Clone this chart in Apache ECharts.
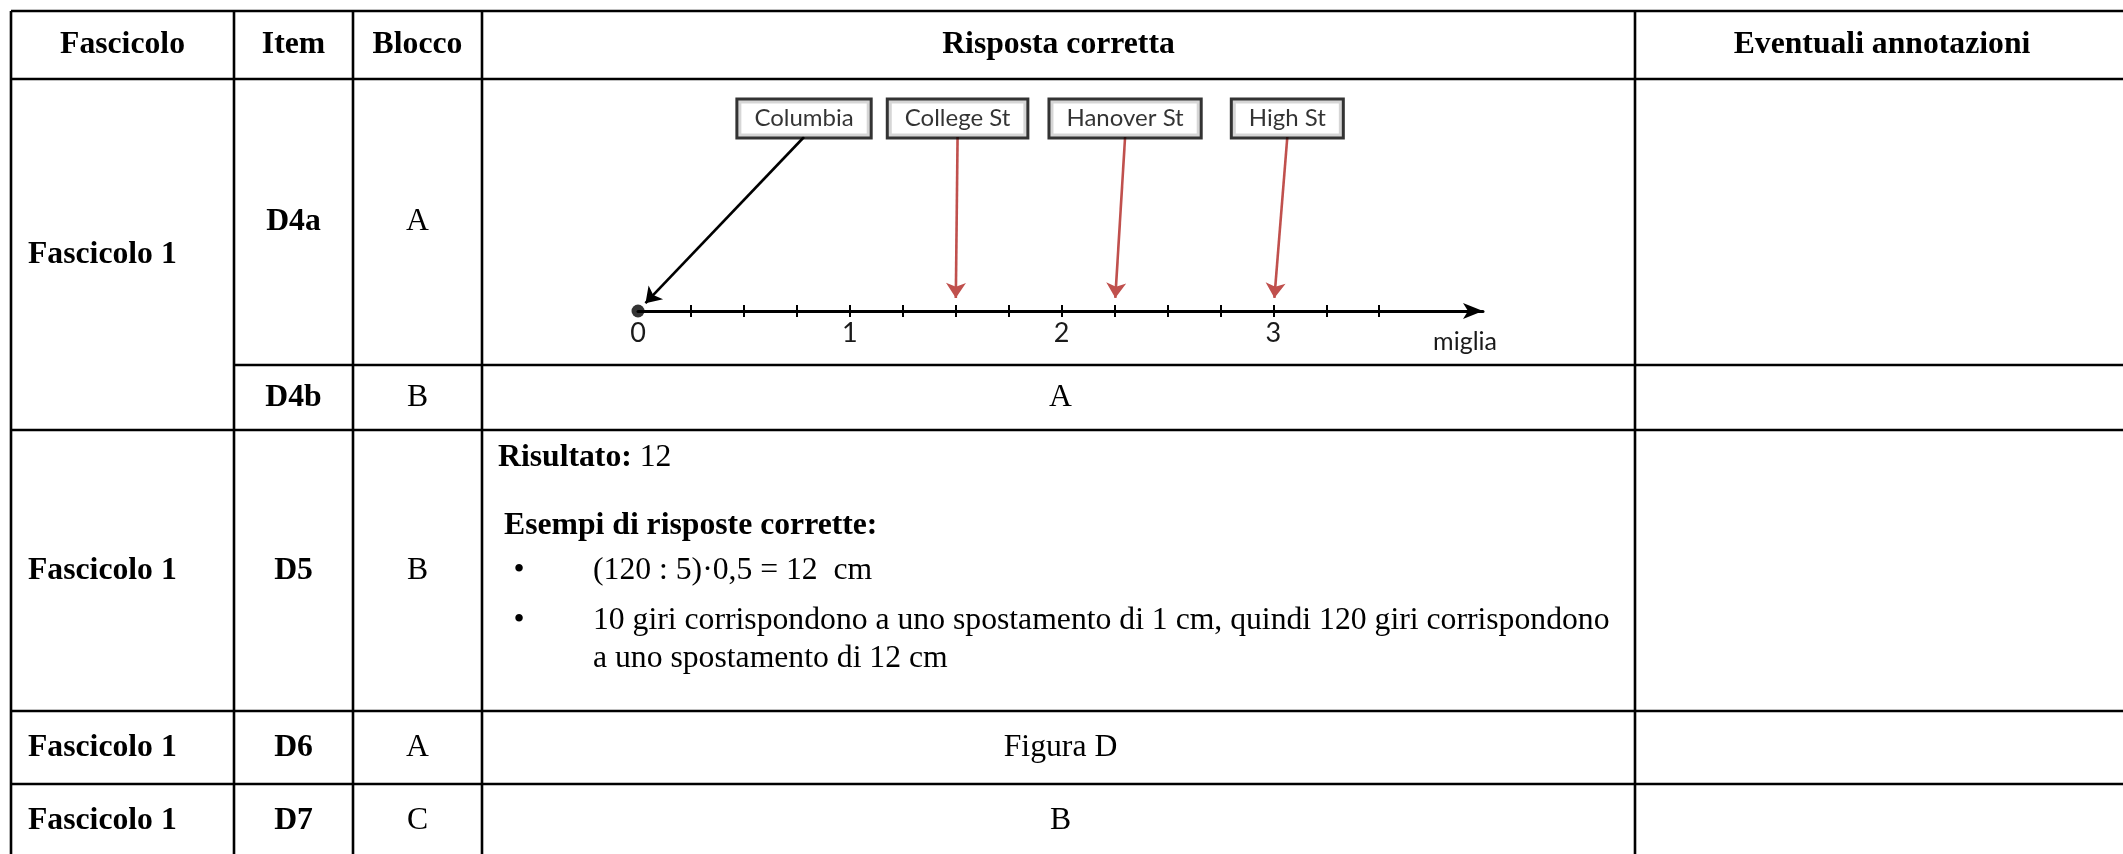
<!DOCTYPE html>
<html>
<head>
<meta charset="utf-8">
<title>Fascicolo 1 - risposte corrette</title>
<script src="https://cdn.jsdelivr.net/npm/echarts@6/dist/echarts.min.js"></script>
<style>
html, body { margin: 0; padding: 0; background: #fff; }
#main { width: 2123px; height: 854px; }
</style>
</head>
<body>
<div id="main"></div>
<script>
// intestazioni e righe della tabella
var intestazioni = ['Fascicolo', 'Item', 'Blocco', 'Risposta corretta', 'Eventuali annotazioni'];
var item = ['D4a', 'D4b', 'D5', 'D6', 'D7'];
var blocco = ['A', 'B', 'B', 'A', 'C'];
var risposta = ['', 'A', '', 'Figura D', 'B'];
var fascicolo = ['Fascicolo 1', 'Fascicolo 1', 'Fascicolo 1', 'Fascicolo 1'];
var righeFascicolo = [[0, 1], [2], [3], [4]];   // D4a e D4b nella stessa cella

// risposta D5
var risultato = '12';
var titoloEsempi = 'Esempi di risposte corrette:';
var esempi = [
    ['(120 : 5)\u00b70,5 = 12  cm'],
    ['10 giri corrispondono a uno spostamento di 1 cm, quindi 120 giri corrispondono',
     'a uno spostamento di 12 cm']
];

// risposta D4a: retta dei numeri
var strade = ['Columbia', 'College St', 'Hanover St', 'High St'];
var miglia = [0, 1.5, 2.25, 3];
var tacche = [0.25, 0.5, 0.75, 1, 1.25, 1.5, 1.75, 2, 2.25, 2.5, 2.75, 3, 3.25, 3.5];
var etichette = [0, 1, 2, 3];

// impaginazione (pixel)
var colX = [11, 234, 353, 482, 1635, 2123];
var rowY = [11, 79, 365, 430, 711, 784, 857];
var boxAt = [0.784, 1.509, 2.30, 3.066];        // centro dei riquadri, in miglia
var colori = ['#000000', '#c0504d', '#c0504d', '#c0504d'];

var SERIF = '"Liberation Serif", "Times New Roman", serif';
var SANS = 'Lato, "Noto Sans", sans-serif';
var FS = 31.7;

var graphic = [];
function linea(x1, y1, x2, y2) {
    graphic.push({
        type: 'line', silent: true,
        shape: { x1: x1, y1: y1, x2: x2, y2: y2 },
        style: { stroke: '#000', lineWidth: 2.6 }
    });
}
function testo(t, x, y, bold, align) {
    graphic.push({
        type: 'text', silent: true, x: x, y: y,
        style: {
            text: t, fill: '#000',
            fontFamily: SERIF, fontSize: FS, fontWeight: bold ? 'bold' : 'normal',
            align: align || 'center', verticalAlign: 'middle'
        }
    });
}
function centroX(c) { return (colX[c] + colX[c + 1]) / 2; }
function centroY(r0, r1) { return (rowY[r0] + rowY[r1]) / 2; }

// griglia della tabella
[0, 1, 3, 4, 5].forEach(function (r) { linea(colX[0], rowY[r], colX[5], rowY[r]); });
linea(colX[1], rowY[2], colX[5], rowY[2]);
for (var c = 0; c < 5; c++) linea(colX[c], rowY[0], colX[c], 854);

// intestazione
intestazioni.forEach(function (t, i) {
    testo(t, i === 4 ? 1882 : centroX(i), centroY(0, 1), true);
});

// righe: item i occupa la fascia i+1 .. i+2
item.forEach(function (t, i) {
    var y = centroY(i + 1, i + 2);
    testo(t, centroX(1), y, true);
    testo(blocco[i], centroX(2), y, false);
    if (risposta[i]) testo(risposta[i], centroX(3) + 2, y, false);
});
fascicolo.forEach(function (t, g) {
    var rr = righeFascicolo[g];
    testo(t, 28, centroY(rr[0] + 1, rr[rr.length - 1] + 2), true, 'left');
});

// contenuto D5
graphic.push({
    type: 'text', silent: true, x: 498, y: 458,
    style: {
        text: '{b|Risultato:}{n| ' + risultato + '}',
        verticalAlign: 'middle', align: 'left',
        rich: {
            b: { fontFamily: SERIF, fontSize: FS, fontWeight: 'bold', fill: '#000' },
            n: { fontFamily: SERIF, fontSize: FS, fill: '#000' }
        }
    }
});
testo(titoloEsempi, 504, 526, true, 'left');
var yRiga = [571, 621];
esempi.forEach(function (righe, k) {
    testo('\u2022', 519, yRiga[k], false);
    righe.forEach(function (r, j) {
        testo(r, 593, yRiga[k] + j * 38, false, 'left');
    });
});

var chart = echarts.init(document.getElementById('main'));

var frecce = strade.map(function (s, i) {
    var x0 = boxAt[i], y0 = 1, x1 = miglia[i], y1 = 0;
    var f = i === 0 ? 0.955 : 0.925;
    return {
        name: s,
        coords: [[x0, y0], [x0 + (x1 - x0) * f, y0 + (y1 - y0) * f]],
        lineStyle: { color: colori[i] }
    };
});

var option = {
    backgroundColor: '#ffffff',
    animation: false,
    graphic: graphic,
    grid: { left: 638, top: 137, width: 845, height: 174 },
    xAxis: [
        {
            type: 'value', min: 0, max: 3.99, position: 'bottom',
            name: 'miglia', nameLocation: 'end', nameGap: 14,
            nameTextStyle: {
                fontFamily: SANS, fontSize: 25, color: '#1a1a1a',
                align: 'right', verticalAlign: 'top', padding: [18, 0, 0, 0]
            },
            axisLine: {
                show: true, symbol: ['none', 'arrow'], symbolSize: [12, 20],
                lineStyle: { color: '#000', width: 3 }
            },
            axisTick: { show: true, customValues: tacche, length: 6, lineStyle: { color: '#000', width: 2 } },
            axisLabel: { customValues: etichette, fontFamily: SANS, fontSize: 27, color: '#1a1a1a', margin: 9 },
            splitLine: { show: false }
        },
        {
            type: 'value', min: 0, max: 3.99, position: 'bottom',
            axisLine: { show: false },
            axisTick: { show: true, inside: true, customValues: tacche, length: 6, lineStyle: { color: '#000', width: 2 } },
            axisLabel: { show: false },
            splitLine: { show: false }
        }
    ],
    yAxis: { type: 'value', min: 0, max: 1, show: false },
    series: [
        {
            type: 'lines', coordinateSystem: 'cartesian2d',
            symbol: ['none', 'arrow'], symbolSize: 15,
            lineStyle: { width: 2.6, opacity: 1 },
            data: frecce, z: 3
        },
        {
            type: 'scatter', clip: false,
            symbolSize: 13, itemStyle: { color: '#000' },
            data: [[miglia[0], 0]], z: 4
        },
        {
            type: 'scatter', clip: false,
            symbolSize: 1, itemStyle: { color: 'rgba(0,0,0,0)' },
            data: strade.map(function (s, i) { return { name: s, value: [boxAt[i], 1] }; }),
            label: {
                show: true, position: 'top', distance: 0,
                formatter: '{b}',
                fontFamily: SANS, fontSize: 24, color: '#000',
                backgroundColor: '#fff', borderColor: '#000', borderWidth: 3,
                padding: [6, 16, 6, 16]
            },
            z: 5
        }
    ]
};
chart.setOption(option);
</script>
</body>
</html>
